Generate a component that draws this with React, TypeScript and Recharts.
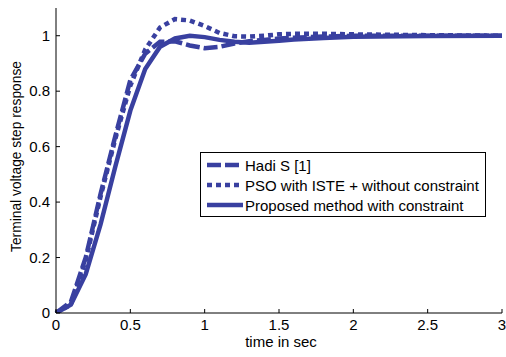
import React from "react";
import { LineChart, Line, XAxis, YAxis } from "recharts";

const time = [0, 0.1, 0.2, 0.3, 0.4, 0.5, 0.6, 0.7, 0.8, 0.9, 1.0, 1.1, 1.2, 1.3, 1.4, 1.5, 1.6, 1.8, 2.0, 2.5, 3.0];
const hadi = [0, 0.04, 0.2, 0.43, 0.64, 0.84, 0.935, 0.978, 0.98, 0.965, 0.955, 0.96, 0.972, 0.98, 0.985, 0.99, 0.993, 0.997, 1.0, 1.0, 1.0];
const pso = [0, 0.03, 0.19, 0.42, 0.63, 0.82, 0.95, 1.03, 1.06, 1.055, 1.035, 1.01, 0.998, 0.997, 1.0, 1.005, 1.007, 1.007, 1.005, 1.002, 1.0];
const proposed = [0, 0.03, 0.14, 0.32, 0.53, 0.73, 0.88, 0.96, 0.99, 1.0, 0.995, 0.985, 0.978, 0.975, 0.978, 0.982, 0.986, 0.992, 0.996, 0.999, 1.0];

const xTicks = [0, 0.5, 1, 1.5, 2, 2.5, 3];
const yTicks = [0, 0.2, 0.4, 0.6, 0.8, 1];
const seriesNames = ["Hadi S [1]", "PSO with ISTE + without constraint", "Proposed method with constraint"];

const data = time.map((t, i) => ({ t, hadi: hadi[i], pso: pso[i], proposed: proposed[i] }));

const COLOR = "#3940a0";
const FONT = "'Liberation Sans', Arial, sans-serif";
const dashes: Record<string, string | undefined> = { hadi: "14 4", pso: "5 4", proposed: undefined };

const BottomTick = (props: any) => {
  const { x, y, payload } = props;
  return (
    <g>
      <line x1={x} x2={x} y1={y - 6} y2={y - 10} stroke="#000" strokeWidth={1} />
      <text x={x} y={y + 11} textAnchor="middle" fontSize={15} fontFamily={FONT} fill="#000">
        {String(payload.value)}
      </text>
    </g>
  );
};

const LeftTick = (props: any) => {
  const { x, y, payload } = props;
  return (
    <g>
      <line x1={x + 8} x2={x + 12} y1={y} y2={y} stroke="#000" strokeWidth={1} />
      <text x={x + 2} y={y + 5} textAnchor="end" fontSize={15} fontFamily={FONT} fill="#000">
        {String(payload.value)}
      </text>
    </g>
  );
};

const TopTick = (props: any) => {
  const { x, y } = props;
  return <line x1={x} x2={x} y1={y} y2={y + 4} stroke="#000" strokeWidth={1} />;
};

const RightTick = (props: any) => {
  const { x, y } = props;
  return <line x1={x} x2={x - 4} y1={y} y2={y} stroke="#000" strokeWidth={1} />;
};

const LegendBox = () => {
  const keys = ["hadi", "pso", "proposed"];
  return (
    <div
      style={{
        position: "absolute",
        left: 200,
        top: 152,
        width: 284,
        height: 63,
        border: "1px solid #000",
        background: "#fff",
        fontFamily: FONT,
        fontSize: 15,
      }}
    >
      {keys.map((k, i) => (
        <div key={k} style={{ display: "flex", alignItems: "center", height: 20, marginTop: i === 0 ? 2 : 0 }}>
          <svg width={38} height={20} style={{ marginLeft: 5, flex: "none" }}>
            <line x1={1} x2={37} y1={10} y2={10} stroke={COLOR} strokeWidth={4.5} strokeDasharray={dashes[k]} />
          </svg>
          <span style={{ marginLeft: 1, color: "#000", whiteSpace: "nowrap" }}>{seriesNames[i]}</span>
        </div>
      ))}
    </div>
  );
};

export default function App() {
  return (
    <div style={{ position: "absolute", left: 0, top: 0, width: 506, height: 357, background: "#fff" }}>
      <LineChart width={506} height={357} data={data} margin={{ top: 8, right: 4, bottom: 14, left: 0 }}>
        <XAxis
          xAxisId="bottom"
          dataKey="t"
          type="number"
          domain={[0, 3]}
          ticks={xTicks}
          tickSize={0}
          tickMargin={6}
          tickLine={false}
          tick={<BottomTick />}
          axisLine={{ stroke: "#000" }}
          height={30}
          interval={0}
        />
        <XAxis
          xAxisId="top"
          orientation="top"
          dataKey="t"
          type="number"
          domain={[0, 3]}
          ticks={xTicks}
          tickSize={0}
          tickMargin={0}
          tickLine={false}
          tick={<TopTick />}
          axisLine={{ stroke: "#000" }}
          height={0}
          interval={0}
        />
        <YAxis
          yAxisId="left"
          type="number"
          domain={[0, 1.1]}
          ticks={yTicks}
          tickSize={0}
          tickMargin={8}
          tickLine={false}
          tick={<LeftTick />}
          axisLine={{ stroke: "#000" }}
          width={56}
          interval={0}
          allowDataOverflow
          label={{
            value: "Terminal voltage step response",
            angle: -90,
            position: "insideLeft",
            offset: 0,
            dx: 16,
            dy: -4,
            style: { fontFamily: FONT, fontSize: 13.8, fill: "#000", textAnchor: "middle" },
          }}
        />
        <YAxis
          yAxisId="right"
          orientation="right"
          type="number"
          domain={[0, 1.1]}
          ticks={yTicks}
          tickSize={0}
          tickMargin={0}
          tickLine={false}
          tick={<RightTick />}
          axisLine={{ stroke: "#000" }}
          width={0}
          interval={0}
          allowDataOverflow
        />
        <Line xAxisId="bottom" yAxisId="left" dataKey="hadi" name={seriesNames[0]} stroke={COLOR} strokeWidth={4.5} strokeDasharray={dashes.hadi} dot={false} type="linear" isAnimationActive={false} />
        <Line xAxisId="bottom" yAxisId="left" dataKey="pso" name={seriesNames[1]} stroke={COLOR} strokeWidth={4.5} strokeDasharray={dashes.pso} dot={false} type="linear" isAnimationActive={false} />
        <Line xAxisId="bottom" yAxisId="left" dataKey="proposed" name={seriesNames[2]} stroke={COLOR} strokeWidth={4.5} dot={false} type="linear" isAnimationActive={false} />
      </LineChart>
      <LegendBox />
      <div
        style={{
          position: "absolute",
          left: 0,
          width: 506,
          top: 333,
          paddingLeft: 56,
          boxSizing: "border-box",
          textAlign: "center",
          fontFamily: FONT,
          fontSize: 15,
          color: "#000",
        }}
      >
        time in sec
      </div>
    </div>
  );
}
